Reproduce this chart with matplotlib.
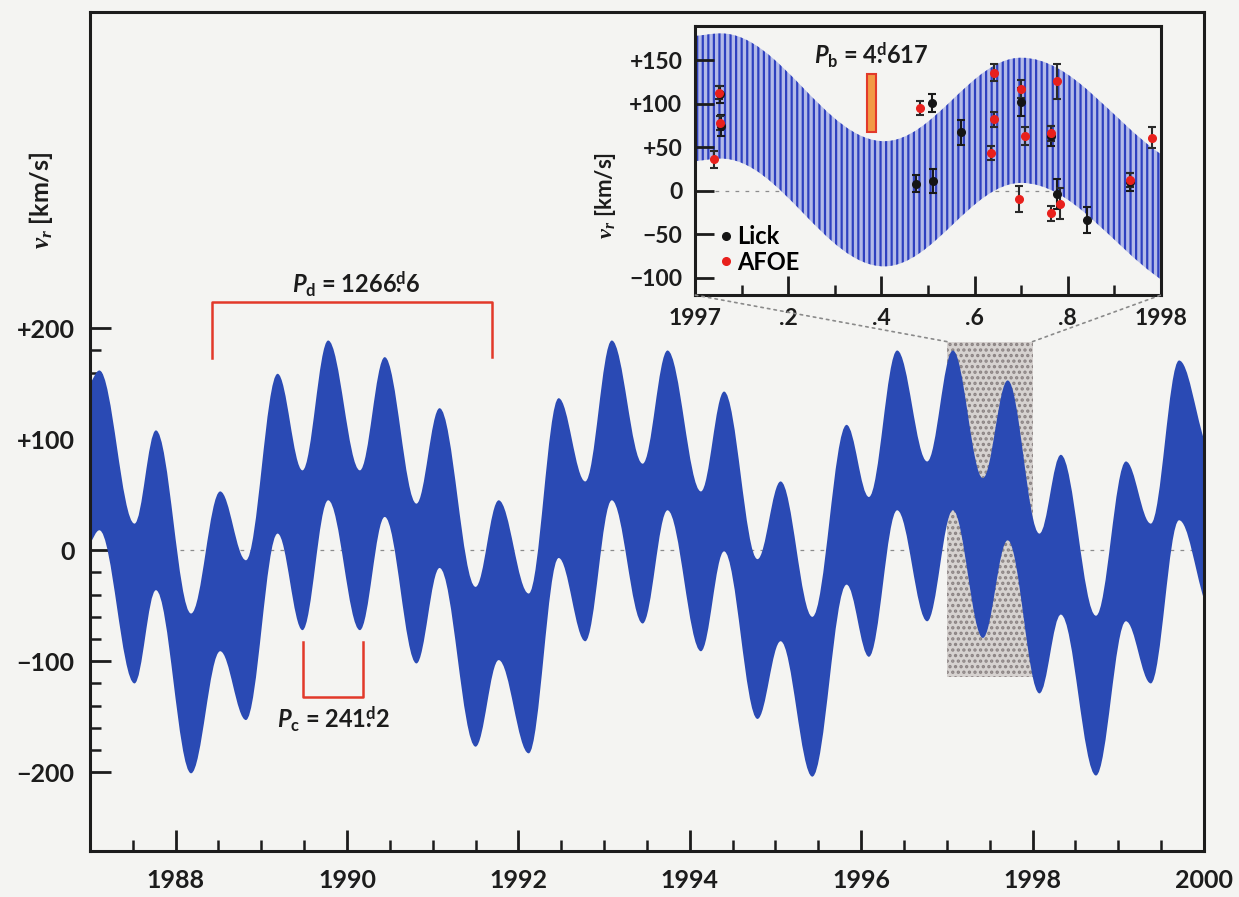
import numpy as np
import matplotlib.pyplot as plt
from matplotlib.path import Path
from matplotlib.patches import PathPatch, Rectangle, ConnectionPatch
from matplotlib.ticker import MultipleLocator, FixedLocator

# ---- daten ----
# obere Kante des Bandes: Wendepunkte (Jahr, km/s)
band_years = [1987.00, 1987.11, 1987.52, 1987.77, 1988.18, 1988.52, 1988.82,
              1989.19, 1989.48, 1989.78, 1990.15, 1990.44, 1990.81, 1991.08,
              1991.50, 1991.77, 1992.12, 1992.47, 1992.78, 1993.09, 1993.45,
              1993.74, 1994.13, 1994.40, 1994.79, 1995.06, 1995.43, 1995.83,
              1996.09, 1996.42, 1996.77, 1997.07, 1997.42, 1997.71, 1998.08,
              1998.33, 1998.74, 1999.09, 1999.38, 1999.71, 2000.00]
band_top = [150, 162, 24, 108, -57, 53, -9,
            159, 72, 189, 72, 174, 42, 128,
            -33, 45, -39, 137, 62, 189, 78,
            180, 53, 143, -8, 62, -60, 113,
            48, 180, 80, 180, 65, 153, 15,
            86, -59, 80, 24, 171, 100]
band_half = 72          # halbe Breite des 4.617-d-Bandes

inset_years = [1997.0, 1997.056, 1997.406, 1997.70, 1998.0]
inset_top = [178, 181, 57, 153, 42]

lick_t = [1997.054, 1997.055, 1997.474, 1997.509, 1997.511, 1997.570,
          1997.700, 1997.763, 1997.777, 1997.841, 1997.934]
lick_v = [111, 75, 8, 101, 11, 67, 102, 63, -4, -34, 10]
lick_err = [10, 12, 10, 10, 14, 14, 16, 11, 17, 15, 10]

afoe_t = [1997.052, 1997.053, 1997.041, 1997.484, 1997.641, 1997.641,
          1997.636, 1997.699, 1997.708, 1997.695, 1997.763, 1997.777,
          1997.763, 1997.784, 1997.934, 1997.981]
afoe_v = [113, 78, 36, 95, 136, 82, 43, 117, 63, -10, 66, 126, -26, -15, 12, 61]
afoe_err = [8, 8, 10, 8, 10, 9, 8, 10, 10, 15, 9, 20, 9, 18, 8, 12]

main_xticks = [1988, 1990, 1992, 1994, 1996, 1998, 2000]
main_yticks = [-200, -100, 0, 100, 200]
main_ylabels = ['\u2212200', '\u2212100', '0', '+100', '+200']
inset_xticks = [1997.0, 1997.2, 1997.4, 1997.6, 1997.8, 1998.0]
inset_xlabels = ['1997', '.2', '.4', '.6', '.8', '1998']
inset_yticks = [-100, -50, 0, 50, 100, 150]
inset_ylabels = ['\u2212100', '\u221250', '0', '+50', '+100', '+150']

# Perioden-Klammern (Jahr)
pd_start, pd_end = 1988.42, 1991.69
pc_start, pc_end = 1989.49, 1990.19
pb_start, pb_end = 1997.370, 1997.389

plt.rcParams['font.family'] = ['Lato', 'DejaVu Sans']
plt.rcParams['font.weight'] = 'bold'
plt.rcParams['axes.labelweight'] = 'bold'
plt.rcParams['mathtext.fontset'] = 'custom'
plt.rcParams['mathtext.rm'] = 'Lato:bold'
plt.rcParams['mathtext.bf'] = 'Lato:bold'
plt.rcParams['mathtext.it'] = 'Lato:italic:bold'
plt.rcParams['mathtext.cal'] = 'Liberation Serif:italic'
plt.rcParams['hatch.linewidth'] = 1.6

bg = '#f4f4f2'
blue = '#2a4ab4'
red = '#e2392a'
ink = '#1c1c1c'


def band_path(xs, ys, half, a=0.36):
    # glatte Kurve durch die Wendepunkte (Bezier), unten um 2*half verschoben
    xs = np.asarray(xs, float)
    ys = np.asarray(ys, float)
    n = len(xs)
    s = np.zeros(n)
    s[0] = (ys[1] - ys[0]) / (xs[1] - xs[0])
    s[-1] = (ys[-1] - ys[-2]) / (xs[-1] - xs[-2])
    verts = [(xs[0], ys[0])]
    codes = [Path.MOVETO]
    for i in range(n - 1):
        dx = xs[i + 1] - xs[i]
        verts += [(xs[i] + a * dx, ys[i] + s[i] * a * dx),
                  (xs[i + 1] - a * dx, ys[i + 1] - s[i + 1] * a * dx),
                  (xs[i + 1], ys[i + 1])]
        codes += [Path.CURVE4] * 3
    lo = ys - 2 * half
    verts.append((xs[-1], lo[-1]))
    codes.append(Path.LINETO)
    for i in range(n - 2, -1, -1):
        dx = xs[i + 1] - xs[i]
        verts += [(xs[i + 1] - a * dx, lo[i + 1] - s[i + 1] * a * dx),
                  (xs[i] + a * dx, lo[i] + s[i] * a * dx),
                  (xs[i], lo[i])]
        codes += [Path.CURVE4] * 3
    verts.append((xs[0], ys[0]))
    codes.append(Path.CLOSEPOLY)
    return Path(verts, codes)


fig = plt.figure(figsize=(12.39, 8.97), dpi=100)
fig.patch.set_facecolor(bg)

# ---- Hauptbild ----
ax = fig.add_axes([0.0726, 0.0513, 0.8991, 0.9353])
ax.set_facecolor(bg)
ax.set_xlim(1987, 2000)
ax.set_ylim(-271, 485)

ax.add_patch(Rectangle((1997.0, -114), 1.0, 302, facecolor='#d6d2d0',
                       edgecolor='#8a8282', hatch='...', lw=0, zorder=1))
ax.axhline(0, color='#8c8c8c', lw=0.9, ls=(0, (3, 5)), zorder=1.5)
ax.add_patch(PathPatch(band_path(band_years, band_top, band_half),
                       facecolor=blue, edgecolor='none', zorder=2))

ax.plot([pd_start, pd_start, pd_end, pd_end], [173, 224, 224, 174],
        color=red, lw=1.8, zorder=3)
ax.plot([pc_start, pc_start, pc_end, pc_end], [-83, -132, -132, -83],
        color=red, lw=1.8, zorder=3)
ax.text(1990.10, 240, r'$\mathit{P}_\mathrm{d}$ = 1266$\overset{\mathrm{d}}{.}$6',
        ha='center', va='center', fontsize=17, color=ink, zorder=4)
ax.text(1989.84, -152, r'$\mathit{P}_\mathrm{c}$ = 241$\overset{\mathrm{d}}{.}$2',
        ha='center', va='center', fontsize=17, color=ink, zorder=4)

ax.set_xticks(main_xticks)
ax.set_xticklabels([str(y) for y in main_xticks])
ax.xaxis.set_minor_locator(MultipleLocator(0.5))
ax.set_yticks(main_yticks)
ax.set_yticklabels(main_ylabels)
ax.yaxis.set_minor_locator(FixedLocator(np.arange(-200, 201, 20)))
ax.tick_params(which='both', direction='in', top=False, right=False,
               color=ink, labelcolor=ink)
ax.tick_params(which='major', length=15, width=2)
ax.tick_params(which='minor', length=8, width=1.8)
ax.tick_params(axis='x', which='major', labelsize=18, pad=13)
ax.tick_params(axis='y', which='major', labelsize=18, pad=11)
for sp in ax.spines.values():
    sp.set_linewidth(2.2)
    sp.set_color(ink)
ax.set_ylabel(r'$\mathcal{v}_\mathcal{r}$ [km/s]', fontsize=18, color=ink)
ax.yaxis.set_label_coords(-0.031, 0.776)

# ---- Ausschnitt 1997 ----
ax_in = fig.add_axes([0.5609, 0.6711, 0.3761, 0.2994])
ax_in.set_facecolor(bg)
ax_in.set_xlim(1997, 1998)
ax_in.set_ylim(-120, 189)
ax_in.axhline(0, color='#8c8c8c', lw=0.9, ls=(0, (3, 5)), zorder=0.5)
ax_in.add_patch(PathPatch(band_path(inset_years, inset_top, band_half),
                          facecolor='#b3bae8', edgecolor='#2e40c0',
                          hatch='|||', lw=0, zorder=1))

ax_in.errorbar(lick_t, lick_v, yerr=lick_err, fmt='none', ecolor='#1a1a1a',
               elinewidth=1.5, capsize=3, capthick=1.5, zorder=3)
ax_in.errorbar(afoe_t, afoe_v, yerr=afoe_err, fmt='none', ecolor='#2a2a2a',
               elinewidth=1.5, capsize=3, capthick=1.5, zorder=3)
h_lick, = ax_in.plot(lick_t, lick_v, 'o', color='#151515', ms=5.5,
                     label='Lick', zorder=4)
h_afoe, = ax_in.plot(afoe_t, afoe_v, 'o', color='#e8201c', ms=5.5,
                     label='AFOE', zorder=5)

ax_in.add_patch(Rectangle((pb_start, 67), pb_end - pb_start, 67,
                          facecolor='#f29a45', edgecolor=red, lw=1.5, zorder=3))
ax_in.text(1997.379, 156, r'$\mathit{P}_\mathrm{b}$ = 4$\overset{\mathrm{d}}{.}$617',
           ha='center', va='center', fontsize=17, color=ink, zorder=6)

ax_in.legend(handles=[h_lick, h_afoe], loc='lower left',
             bbox_to_anchor=(0.055, 0.08), frameon=False, fontsize=17,
             handlelength=0.5, handletextpad=0.2, labelspacing=0.1,
             borderpad=0, borderaxespad=0, markerscale=1.0)

ax_in.set_xticks(inset_xticks)
ax_in.set_xticklabels(inset_xlabels)
ax_in.xaxis.set_minor_locator(FixedLocator([1997.1, 1997.3, 1997.5, 1997.7, 1997.9]))
ax_in.set_yticks(inset_yticks)
ax_in.set_yticklabels(inset_ylabels)
ax_in.tick_params(which='both', direction='in', top=False, right=False,
                  color=ink, labelcolor=ink)
ax_in.tick_params(which='major', length=14, width=2, labelsize=16.5, pad=9)
ax_in.tick_params(which='minor', length=7, width=1.8)
for sp in ax_in.spines.values():
    sp.set_linewidth(2.2)
    sp.set_color(ink)
ax_in.set_ylabel(r'$\mathcal{v}_\mathcal{r}$ [km/s]', fontsize=16, color=ink)
ax_in.yaxis.set_label_coords(-0.165, 0.37)

# gepunktete Verbindung Rechteck -> Ausschnitt
for xa, xb in [(1997.0, 0.0), (1998.0, 1.0)]:
    fig.add_artist(ConnectionPatch(xyA=(xa, 188), coordsA=ax.transData,
                                   xyB=(xb, 0.0), coordsB=ax_in.transAxes,
                                   color='#8a8a8a', lw=1.2, ls=(0, (1.5, 2.5))))

fig.savefig('out.png', dpi=100, facecolor=bg)
